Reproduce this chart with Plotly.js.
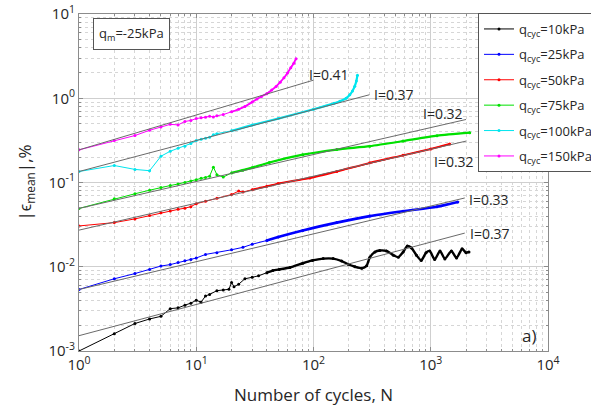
<!DOCTYPE html>
<html><head><meta charset="utf-8">
<script src="https://cdn.plot.ly/plotly-3.0.1.min.js"></script>
<style>html,body{margin:0;padding:0;background:#fff}</style>
</head><body><div id="chart" style="width:591px;height:413px"></div>
<script>
// ---- data ----
const seriesNames = ['q<sub>cyc</sub>=10kPa','q<sub>cyc</sub>=25kPa','q<sub>cyc</sub>=50kPa','q<sub>cyc</sub>=75kPa','q<sub>cyc</sub>=100kPa','q<sub>cyc</sub>=150kPa'];
const seriesColors = ['#000000','#0000ff','#ff0000','#00e000','#00e5ee','#ff00ff'];

const n10 = [1,2,3,4,5,6,7,8,9,10,11,12,13,15,17,19,20,21,23,26,30,34,40,45,51,63,81,98,121,147,174,197,226,258,284,302,334,367,419,480,529,582,630,686,755,830,912,980,1080,1200,1320,1500,1660,1850,2000,2120];
const v10 = [0.001,0.0016,0.00212,0.0024,0.00258,0.00318,0.00325,0.0035,0.0037,0.0040,0.0038,0.0045,0.0047,0.0052,0.0053,0.0054,0.0065,0.0058,0.0062,0.0072,0.0075,0.0078,0.0085,0.009,0.0093,0.0098,0.011,0.0119,0.0125,0.0125,0.0117,0.0107,0.0100,0.0096,0.0103,0.0129,0.015,0.0156,0.0154,0.0137,0.013,0.015,0.0176,0.0167,0.0137,0.0119,0.0147,0.0154,0.0122,0.0154,0.0124,0.0154,0.0127,0.0163,0.0147,0.015];

const n25 = [1,2,3,4,5,6,7,8,9,10,12,15,20,25,30,40,50,81,158,302,580,1130,1700];
const v25 = [0.00537,0.0072,0.0083,0.0093,0.0102,0.0106,0.0112,0.0118,0.0122,0.0127,0.014,0.0147,0.0159,0.017,0.0185,0.0205,0.0225,0.027,0.0334,0.0399,0.0456,0.0515,0.0586];

const n50 = [1,2,3,4,5,6,7,8,9,10,12,15,20,23,25,30,40,50,93,158,302,580,1000,1450];
const v50 = [0.0305,0.0334,0.037,0.0406,0.0437,0.0458,0.048,0.0496,0.0517,0.056,0.06,0.065,0.072,0.079,0.077,0.082,0.09,0.097,0.113,0.135,0.171,0.21,0.25,0.287];

const n75 = [1,2,3,4,5,6,7,8,9,10,11,12,13,14,15,17,20,25,30,42,81,158,302,580,1130,2150];
const v75 = [0.0492,0.064,0.0735,0.081,0.0875,0.092,0.096,0.1,0.104,0.108,0.112,0.115,0.119,0.152,0.124,0.116,0.13,0.14,0.15,0.173,0.214,0.246,0.27,0.31,0.36,0.39];

const n100 = [1,2,3,4,5,6,7,8,9,10,11,12,13,14,15,20,30,50,100,150,168,190,204,215,225,232,237];
const v100 = [0.135,0.159,0.143,0.138,0.205,0.235,0.255,0.27,0.29,0.315,0.325,0.335,0.345,0.37,0.38,0.41,0.48,0.574,0.74,0.87,0.92,1.0,1.1,1.22,1.39,1.6,1.88];

const n150 = [1,2,3,4,5,6,7,8,9,10,11,12,13,14,15,17,20,23,26,30,33,36,40,44,48,52,56,60,64,68,71];
const v150 = [0.244,0.315,0.361,0.417,0.457,0.49,0.483,0.53,0.545,0.574,0.585,0.595,0.61,0.6,0.62,0.64,0.69,0.74,0.8,0.9,0.98,1.05,1.13,1.25,1.38,1.55,1.75,2.0,2.3,2.6,2.95];

// fitted power-law lines (start / end)
const fitLabels   = ['I=0.37','I=0.33','I=0.32','I=0.32','I=0.37','I=0.41'];
const fitStartN   = [1,1,1,1,1,1];
const fitStartVal = [0.00152,0.00537,0.0272,0.0492,0.135,0.244];
const fitEndN     = [1950,1950,2000,2000,300,100];
const fitEndVal   = [0.0251,0.0655,0.31,0.56,1.1,1.64];

const xTickVals = [1,10,100,1000,10000];
const xTickText = ['10<sup>0</sup>','10<sup>1</sup>','10<sup>2</sup>','10<sup>3</sup>','10<sup>4</sup>'];
const yTickVals = [0.001,0.01,0.1,1,10];
const yTickText = ['10<sup>-3</sup>','10<sup>-2</sup>','10<sup>-1</sup>','10<sup>0</sup>','10<sup>1</sup>'];

// ---- build ----
const allN = [n10,n25,n50,n75,n100,n150];
const allV = [v10,v25,v50,v75,v100,v150];
const thickFrom = [40,40,30,20,20,20];
const thickW = [2.4,2.6,2.0,2.2,2.2,1.8];

function minorVals(lo, hi){ const out=[]; for(let e=lo;e<hi;e++){ for(let d=2;d<=9;d++) out.push(d*Math.pow(10,e)); } return out; }

const traces = [];
for(let i=0;i<6;i++){
  traces.push({x:allN[i], y:allV[i], type:'scatter', mode:'lines+markers', name:seriesNames[i],
    legendgroup:'g'+i, line:{color:seriesColors[i], width:1}, marker:{color:seriesColors[i], size:3}});
}
for(let i=0;i<6;i++){
  const xs=[], ys=[];
  allN[i].forEach((n,k)=>{ if(n>=thickFrom[i]){ xs.push(n); ys.push(allV[i][k]); } });
  traces.push({x:xs, y:ys, type:'scatter', mode:'lines', showlegend:false, hoverinfo:'skip',
    line:{color:seriesColors[i], width:thickW[i], shape:'spline', smoothing:0.6}});
}
for(let i=0;i<6;i++){
  traces.push({x:[fitStartN[i],fitEndN[i]], y:[fitStartVal[i],fitEndVal[i]], type:'scatter', mode:'lines',
    showlegend:false, line:{color:'#6a6a6a', width:1}});
}

const W=469, H=337;
const labelPx = [[490,233],[489,199],[454,161],[443,113],[394,95],[329,74]];
const annotations = labelPx.map((p,i)=>({xref:'paper', yref:'paper', x:(p[0]-79)/W, y:(351-p[1])/H,
  text:fitLabels[i], showarrow:false, font:{size:14, color:'#262626'}, xanchor:'center', yanchor:'middle'}));
annotations.push({xref:'paper', yref:'paper', x:(93-79)/W, y:(351-34)/H, xanchor:'left', yanchor:'middle',
  text:'q<sub>m</sub>=-25kPa', showarrow:false, font:{size:13,color:'#262626'}, bordercolor:'#555', borderwidth:1, borderpad:5, bgcolor:'#fff'});
annotations.push({xref:'paper', yref:'paper', x:(529-79)/W, y:(351-335)/H, xanchor:'center', yanchor:'middle',
  text:'a)', showarrow:false, font:{size:17,color:'#262626'}});

const axisCommon = {type:'log', tickmode:'array', showline:true, linecolor:'#8c8c8c', linewidth:1, mirror:'ticks',
  ticks:'inside', ticklen:4, tickcolor:'#8c8c8c', showgrid:true, gridcolor:'#cfcfcf', gridwidth:1, zeroline:false,
  tickfont:{size:15, color:'#262626'}};

const layout = {
  width:591, height:413, margin:{l:79, r:43, t:14, b:62, autoexpand:false},
  paper_bgcolor:'#fff', plot_bgcolor:'#fff',
  font:{family:'Open Sans, sans-serif', color:'#262626'},
  xaxis: Object.assign({}, axisCommon, {range:[0,4], tickvals:xTickVals, ticktext:xTickText,
    minor:{tickmode:'array', tickvals:minorVals(0,4), ticks:'inside', ticklen:2, tickcolor:'#8c8c8c', showgrid:true, gridcolor:'#d6d6d6', griddash:'dot'},
    title:{text:'Number of cycles, N', font:{size:17}, standoff:16}}),
  yaxis: Object.assign({}, axisCommon, {range:[-3,1], tickvals:yTickVals, ticktext:yTickText,
    minor:{tickmode:'array', tickvals:minorVals(-3,1), ticks:'inside', ticklen:2, tickcolor:'#8c8c8c', showgrid:true, gridcolor:'#d6d6d6', griddash:'dot'},
    title:{text:'|ϵ<sub>mean</sub>|,%', font:{size:17}, standoff:12}}),
  showlegend:true,
  legend:{x:(478-79)/W, y:(351-13)/H, xanchor:'left', yanchor:'top', bgcolor:'#fff', bordercolor:'#555', borderwidth:1,
    font:{size:13, color:'#262626'}, tracegroupgap:5.5},
  annotations:annotations
};
Plotly.newPlot('chart', traces, layout, {displayModeBar:false, staticPlot:true});
</script></body></html>
